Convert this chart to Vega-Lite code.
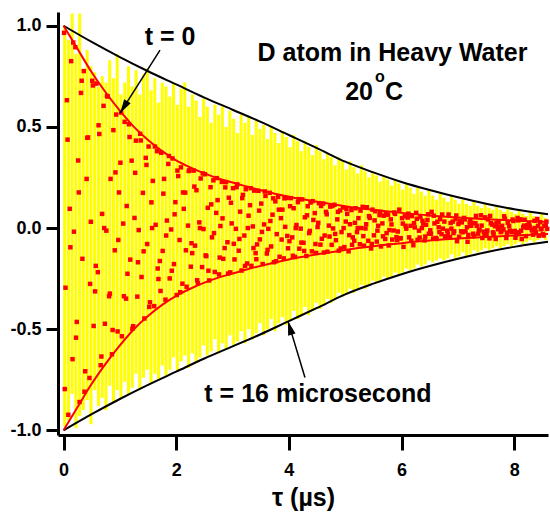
{
"$schema":"https://vega.github.io/schema/vega-lite/v6.json",
"width":490,"height":423,
"autosize":{"type":"none"},
"padding":{"left":58,"top":12,"right":2,"bottom":83},
"background":"white",
"config":{"view":{"stroke":null},"font":"Liberation Sans"},
"datasets":{
"bars":[
{"x":0.02,"lo":-0.98,"hi":1.0},{"x":0.087,"lo":-0.95,"hi":0.93},{"x":0.153,"lo":-0.82,"hi":1.06},{"x":0.22,"lo":-0.99,"hi":0.86},{"x":0.287,"lo":-0.93,"hi":1.06},{"x":0.353,"lo":-0.9,"hi":0.78},{"x":0.42,"lo":-0.85,"hi":0.88},{"x":0.487,"lo":-0.97,"hi":0.8},{"x":0.553,"lo":-0.8,"hi":0.77},{"x":0.62,"lo":-0.88,"hi":0.7},{"x":0.687,"lo":-0.84,"hi":0.75},{"x":0.753,"lo":-0.9,"hi":0.72},{"x":0.82,"lo":-0.78,"hi":0.83},{"x":0.887,"lo":-0.86,"hi":0.74},{"x":0.953,"lo":-0.8,"hi":0.86},{"x":1.02,"lo":-0.84,"hi":0.66},{"x":1.087,"lo":-0.76,"hi":0.72},{"x":1.153,"lo":-0.82,"hi":0.8},{"x":1.22,"lo":-0.79,"hi":0.7},{"x":1.287,"lo":-0.72,"hi":0.78},{"x":1.353,"lo":-0.8,"hi":0.66},{"x":1.42,"lo":-0.74,"hi":0.76},{"x":1.487,"lo":-0.7,"hi":0.79},{"x":1.553,"lo":-0.77,"hi":0.68},{"x":1.62,"lo":-0.72,"hi":0.74},{"x":1.687,"lo":-0.75,"hi":0.62},{"x":1.753,"lo":-0.68,"hi":0.72},{"x":1.82,"lo":-0.73,"hi":0.7},{"x":1.887,"lo":-0.7,"hi":0.65},{"x":1.953,"lo":-0.64,"hi":0.72},{"x":2.02,"lo":-0.71,"hi":0.61},{"x":2.087,"lo":-0.66,"hi":0.69},{"x":2.153,"lo":-0.63,"hi":0.72},{"x":2.22,"lo":-0.69,"hi":0.6},{"x":2.287,"lo":-0.62,"hi":0.66},{"x":2.353,"lo":-0.67,"hi":0.63},{"x":2.42,"lo":-0.64,"hi":0.55},{"x":2.487,"lo":-0.58,"hi":0.64},{"x":2.553,"lo":-0.63,"hi":0.6},{"x":2.62,"lo":-0.61,"hi":0.52},{"x":2.687,"lo":-0.55,"hi":0.61},{"x":2.753,"lo":-0.62,"hi":0.56},{"x":2.82,"lo":-0.57,"hi":0.6},{"x":2.887,"lo":-0.6,"hi":0.5},{"x":2.953,"lo":-0.53,"hi":0.58},{"x":3.02,"lo":-0.58,"hi":0.54},{"x":3.087,"lo":-0.56,"hi":0.47},{"x":3.153,"lo":-0.51,"hi":0.56},{"x":3.22,"lo":-0.57,"hi":0.52},{"x":3.287,"lo":-0.5,"hi":0.55},{"x":3.353,"lo":-0.55,"hi":0.46},{"x":3.42,"lo":-0.52,"hi":0.53},{"x":3.487,"lo":-0.47,"hi":0.49},{"x":3.553,"lo":-0.53,"hi":0.51},{"x":3.62,"lo":-0.5,"hi":0.44},{"x":3.687,"lo":-0.45,"hi":0.5},{"x":3.753,"lo":-0.51,"hi":0.47},{"x":3.82,"lo":-0.47,"hi":0.42},{"x":3.887,"lo":-0.44,"hi":0.48},{"x":3.953,"lo":-0.48,"hi":0.45},{"x":4.02,"lo":-0.46,"hi":0.4},{"x":4.087,"lo":-0.41,"hi":0.46},{"x":4.153,"lo":-0.45,"hi":0.43},{"x":4.22,"lo":-0.43,"hi":0.38},{"x":4.287,"lo":-0.39,"hi":0.43},{"x":4.353,"lo":-0.43,"hi":0.4},{"x":4.42,"lo":-0.41,"hi":0.36},{"x":4.487,"lo":-0.37,"hi":0.41},{"x":4.553,"lo":-0.4,"hi":0.38},{"x":4.62,"lo":-0.38,"hi":0.34},{"x":4.687,"lo":-0.35,"hi":0.37},{"x":4.753,"lo":-0.37,"hi":0.35},{"x":4.82,"lo":-0.35,"hi":0.31},{"x":4.887,"lo":-0.32,"hi":0.35},{"x":4.953,"lo":-0.34,"hi":0.33},{"x":5.02,"lo":-0.33,"hi":0.29},{"x":5.087,"lo":-0.3,"hi":0.33},{"x":5.153,"lo":-0.32,"hi":0.3},{"x":5.22,"lo":-0.3,"hi":0.27},{"x":5.287,"lo":-0.28,"hi":0.31},{"x":5.353,"lo":-0.3,"hi":0.28},{"x":5.42,"lo":-0.28,"hi":0.25},{"x":5.487,"lo":-0.26,"hi":0.28},{"x":5.553,"lo":-0.27,"hi":0.26},{"x":5.62,"lo":-0.26,"hi":0.23},{"x":5.687,"lo":-0.24,"hi":0.26},{"x":5.753,"lo":-0.25,"hi":0.24},{"x":5.82,"lo":-0.24,"hi":0.21},{"x":5.887,"lo":-0.22,"hi":0.24},{"x":5.953,"lo":-0.23,"hi":0.22},{"x":6.02,"lo":-0.22,"hi":0.19},{"x":6.087,"lo":-0.2,"hi":0.22},{"x":6.153,"lo":-0.21,"hi":0.2},{"x":6.22,"lo":-0.2,"hi":0.17},{"x":6.287,"lo":-0.18,"hi":0.2},{"x":6.353,"lo":-0.19,"hi":0.18},{"x":6.42,"lo":-0.18,"hi":0.16},{"x":6.487,"lo":-0.16,"hi":0.19},{"x":6.553,"lo":-0.17,"hi":0.16},{"x":6.62,"lo":-0.16,"hi":0.14},{"x":6.687,"lo":-0.15,"hi":0.17},{"x":6.753,"lo":-0.16,"hi":0.15},{"x":6.82,"lo":-0.15,"hi":0.13},{"x":6.887,"lo":-0.13,"hi":0.16},{"x":6.953,"lo":-0.15,"hi":0.14},{"x":7.02,"lo":-0.14,"hi":0.12},{"x":7.087,"lo":-0.12,"hi":0.14},{"x":7.153,"lo":-0.14,"hi":0.12},{"x":7.22,"lo":-0.13,"hi":0.11},{"x":7.287,"lo":-0.11,"hi":0.13},{"x":7.353,"lo":-0.12,"hi":0.11},{"x":7.42,"lo":-0.11,"hi":0.1},{"x":7.487,"lo":-0.1,"hi":0.12},{"x":7.553,"lo":-0.11,"hi":0.1},{"x":7.62,"lo":-0.1,"hi":0.09},{"x":7.687,"lo":-0.09,"hi":0.11},{"x":7.753,"lo":-0.1,"hi":0.09},{"x":7.82,"lo":-0.09,"hi":0.08},{"x":7.887,"lo":-0.08,"hi":0.1},{"x":7.953,"lo":-0.09,"hi":0.08},{"x":8.02,"lo":-0.08,"hi":0.07},{"x":8.087,"lo":-0.07,"hi":0.09},{"x":8.153,"lo":-0.08,"hi":0.07},{"x":8.22,"lo":-0.07,"hi":0.06},{"x":8.287,"lo":-0.06,"hi":0.08},{"x":8.353,"lo":-0.07,"hi":0.06},{"x":8.42,"lo":-0.06,"hi":0.05},{"x":8.487,"lo":-0.05,"hi":0.07},{"x":8.553,"lo":-0.06,"hi":0.05}
],
"black":[
{"x":0,"y":1.0,"s":"u"},{"x":0.5,"y":0.92,"s":"u"},{"x":1,"y":0.845,"s":"u"},{"x":1.5,"y":0.775,"s":"u"},{"x":2,"y":0.71,"s":"u"},{"x":2.5,"y":0.645,"s":"u"},{"x":3,"y":0.585,"s":"u"},{"x":3.5,"y":0.525,"s":"u"},{"x":4,"y":0.46,"s":"u"},{"x":4.5,"y":0.395,"s":"u"},{"x":5,"y":0.328,"s":"u"},{"x":5.5,"y":0.275,"s":"u"},{"x":6,"y":0.228,"s":"u"},{"x":6.5,"y":0.188,"s":"u"},{"x":7,"y":0.152,"s":"u"},{"x":7.5,"y":0.12,"s":"u"},{"x":8,"y":0.093,"s":"u"},{"x":8.6,"y":0.068,"s":"u"},
{"x":0,"y":-1.0,"s":"d"},{"x":0.5,"y":-0.92,"s":"d"},{"x":1,"y":-0.845,"s":"d"},{"x":1.5,"y":-0.775,"s":"d"},{"x":2,"y":-0.71,"s":"d"},{"x":2.5,"y":-0.645,"s":"d"},{"x":3,"y":-0.585,"s":"d"},{"x":3.5,"y":-0.525,"s":"d"},{"x":4,"y":-0.46,"s":"d"},{"x":4.5,"y":-0.395,"s":"d"},{"x":5,"y":-0.328,"s":"d"},{"x":5.5,"y":-0.275,"s":"d"},{"x":6,"y":-0.228,"s":"d"},{"x":6.5,"y":-0.188,"s":"d"},{"x":7,"y":-0.152,"s":"d"},{"x":7.5,"y":-0.12,"s":"d"},{"x":8,"y":-0.093,"s":"d"},{"x":8.6,"y":-0.068,"s":"d"}
],
"red":[
{"x":0,"y":1.0,"s":"u"},{"x":0.25,"y":0.885,"s":"u"},{"x":0.5,"y":0.77,"s":"u"},{"x":0.75,"y":0.67,"s":"u"},{"x":1,"y":0.58,"s":"u"},{"x":1.25,"y":0.5,"s":"u"},{"x":1.5,"y":0.435,"s":"u"},{"x":1.75,"y":0.38,"s":"u"},{"x":2,"y":0.335,"s":"u"},{"x":2.25,"y":0.3,"s":"u"},{"x":2.5,"y":0.27,"s":"u"},{"x":2.75,"y":0.245,"s":"u"},{"x":3,"y":0.225,"s":"u"},{"x":3.25,"y":0.205,"s":"u"},{"x":3.5,"y":0.187,"s":"u"},{"x":3.75,"y":0.17,"s":"u"},{"x":4,"y":0.155,"s":"u"},{"x":4.25,"y":0.142,"s":"u"},{"x":4.5,"y":0.13,"s":"u"},{"x":5,"y":0.108,"s":"u"},{"x":5.5,"y":0.09,"s":"u"},{"x":6,"y":0.075,"s":"u"},{"x":6.5,"y":0.062,"s":"u"},{"x":7,"y":0.052,"s":"u"},{"x":7.5,"y":0.044,"s":"u"},{"x":8,"y":0.037,"s":"u"},{"x":8.6,"y":0.03,"s":"u"},
{"x":0,"y":-1.0,"s":"d"},{"x":0.25,"y":-0.885,"s":"d"},{"x":0.5,"y":-0.77,"s":"d"},{"x":0.75,"y":-0.67,"s":"d"},{"x":1,"y":-0.58,"s":"d"},{"x":1.25,"y":-0.5,"s":"d"},{"x":1.5,"y":-0.435,"s":"d"},{"x":1.75,"y":-0.38,"s":"d"},{"x":2,"y":-0.335,"s":"d"},{"x":2.25,"y":-0.3,"s":"d"},{"x":2.5,"y":-0.27,"s":"d"},{"x":2.75,"y":-0.245,"s":"d"},{"x":3,"y":-0.225,"s":"d"},{"x":3.25,"y":-0.205,"s":"d"},{"x":3.5,"y":-0.187,"s":"d"},{"x":3.75,"y":-0.17,"s":"d"},{"x":4,"y":-0.155,"s":"d"},{"x":4.25,"y":-0.142,"s":"d"},{"x":4.5,"y":-0.13,"s":"d"},{"x":5,"y":-0.108,"s":"d"},{"x":5.5,"y":-0.09,"s":"d"},{"x":6,"y":-0.075,"s":"d"},{"x":6.5,"y":-0.062,"s":"d"},{"x":7,"y":-0.052,"s":"d"},{"x":7.5,"y":-0.044,"s":"d"},{"x":8,"y":-0.037,"s":"d"},{"x":8.6,"y":-0.03,"s":"d"}
],
"pts":[
{"x":0.01,"y":0.965},{"x":0.035,"y":-0.295},{"x":0.06,"y":0.632},{"x":0.085,"y":-0.923},{"x":0.11,"y":0.095},{"x":0.135,"y":0.825},{"x":0.16,"y":-0.648},{"x":0.185,"y":-0.018},{"x":0.21,"y":0.894},{"x":0.235,"y":-0.464},
{"x":0.26,"y":0.334},{"x":0.285,"y":-0.86},{"x":0.31,"y":0.668},{"x":0.335,"y":-0.152},{"x":0.36,"y":0.776},{"x":0.385,"y":-0.708},{"x":0.41,"y":0.243},{"x":0.435,"y":0.448},{"x":0.46,"y":-0.741},{"x":0.485,"y":0.031},
{"x":0.51,"y":0.728},{"x":0.535,"y":-0.484},{"x":0.56,"y":-0.313},{"x":0.585,"y":0.714},{"x":0.61,"y":-0.218},{"x":0.635,"y":0.465},{"x":0.66,"y":-0.678},{"x":0.685,"y":0.07},{"x":0.71,"y":0.604},{"x":0.735,"y":-0.473},
{"x":0.76,"y":-0.013},{"x":0.785,"y":0.65},{"x":0.81,"y":-0.337},{"x":0.835,"y":0.243},{"x":0.86,"y":-0.624},{"x":0.885,"y":0.484},{"x":0.91,"y":-0.11},{"x":0.935,"y":0.561},{"x":0.96,"y":-0.511},{"x":0.985,"y":0.176},
{"x":1.01,"y":0.323},{"x":1.035,"y":-0.535},{"x":1.06,"y":0.022},{"x":1.085,"y":0.525},{"x":1.11,"y":-0.349},{"x":1.135,"y":-0.226},{"x":1.16,"y":0.513},{"x":1.185,"y":-0.156},{"x":1.21,"y":0.333},{"x":1.235,"y":-0.485},
{"x":1.26,"y":0.05},{"x":1.285,"y":0.432},{"x":1.31,"y":-0.339},{"x":1.335,"y":-0.01},{"x":1.36,"y":0.466},{"x":1.385,"y":-0.242},{"x":1.41,"y":0.174},{"x":1.435,"y":-0.447},{"x":1.46,"y":0.347},{"x":1.485,"y":-0.079},
{"x":1.51,"y":0.403},{"x":1.535,"y":-0.367},{"x":1.56,"y":0.127},{"x":1.585,"y":0.233},{"x":1.61,"y":-0.386},{"x":1.635,"y":0.016},{"x":1.66,"y":0.38},{"x":1.685,"y":-0.252},{"x":1.71,"y":-0.163},{"x":1.735,"y":0.372},
{"x":1.76,"y":-0.113},{"x":1.785,"y":0.243},{"x":1.81,"y":-0.354},{"x":1.835,"y":0.037},{"x":1.86,"y":0.317},{"x":1.885,"y":-0.249},{"x":1.91,"y":-0.007},{"x":1.935,"y":0.344},{"x":1.96,"y":-0.178},{"x":1.985,"y":0.128},
{"x":2.01,"y":-0.331},{"x":2.035,"y":0.257},{"x":2.06,"y":-0.059},{"x":2.085,"y":0.3},{"x":2.11,"y":-0.275},{"x":2.135,"y":0.095},{"x":2.16,"y":0.175},{"x":2.185,"y":-0.29},{"x":2.21,"y":0.012},{"x":2.235,"y":0.287},
{"x":2.26,"y":-0.191},{"x":2.285,"y":-0.124},{"x":2.31,"y":0.284},{"x":2.335,"y":-0.087},{"x":2.36,"y":0.187},{"x":2.385,"y":-0.273},{"x":2.41,"y":0.028},{"x":2.435,"y":0.245},{"x":2.46,"y":-0.193},{"x":2.485,"y":-0.005},
{"x":2.51,"y":0.266},{"x":2.535,"y":-0.139},{"x":2.56,"y":0.1},{"x":2.585,"y":-0.259},{"x":2.61,"y":0.202},{"x":2.635,"y":-0.046},{"x":2.66,"y":0.236},{"x":2.685,"y":-0.217},{"x":2.71,"y":0.075},{"x":2.735,"y":0.138},
{"x":2.76,"y":-0.229},{"x":2.785,"y":0.01},{"x":2.81,"y":0.228},{"x":2.835,"y":-0.152},{"x":2.86,"y":-0.099},{"x":2.885,"y":0.227},{"x":2.91,"y":-0.07},{"x":2.935,"y":0.15},{"x":2.96,"y":-0.219},{"x":2.985,"y":0.023},
{"x":3.01,"y":0.197},{"x":3.035,"y":-0.155},{"x":3.06,"y":-0.004},{"x":3.085,"y":0.216},{"x":3.11,"y":-0.112},{"x":3.135,"y":0.081},{"x":3.16,"y":-0.21},{"x":3.185,"y":0.164},{"x":3.21,"y":-0.037},{"x":3.235,"y":0.192},
{"x":3.26,"y":-0.175},{"x":3.285,"y":0.061},{"x":3.31,"y":0.113},{"x":3.335,"y":-0.187},{"x":3.36,"y":0.008},{"x":3.385,"y":0.185},{"x":3.41,"y":-0.124},{"x":3.435,"y":-0.081},{"x":3.46,"y":0.184},{"x":3.485,"y":-0.056},
{"x":3.51,"y":0.121},{"x":3.535,"y":-0.178},{"x":3.56,"y":0.018},{"x":3.585,"y":0.159},{"x":3.61,"y":-0.126},{"x":3.635,"y":-0.004},{"x":3.66,"y":0.174},{"x":3.685,"y":-0.091},{"x":3.71,"y":0.066},{"x":3.735,"y":-0.169},
{"x":3.76,"y":0.132},{"x":3.785,"y":-0.03},{"x":3.81,"y":0.154},{"x":3.835,"y":-0.142},{"x":3.86,"y":0.049},{"x":3.885,"y":0.091},{"x":3.91,"y":-0.15},{"x":3.935,"y":0.006},{"x":3.96,"y":0.149},{"x":3.985,"y":-0.1},
{"x":4.01,"y":-0.065},{"x":4.035,"y":0.148},{"x":4.06,"y":-0.046},{"x":4.085,"y":0.098},{"x":4.11,"y":-0.143},{"x":4.135,"y":0.015},{"x":4.16,"y":0.128},{"x":4.185,"y":-0.102},{"x":4.21,"y":-0.003},{"x":4.235,"y":0.142},
{"x":4.26,"y":-0.073},{"x":4.285,"y":0.053},{"x":4.31,"y":-0.138},{"x":4.335,"y":0.108},{"x":4.36,"y":-0.025},{"x":4.385,"y":0.126},{"x":4.41,"y":-0.115},{"x":4.435,"y":0.04},{"x":4.46,"y":0.074},{"x":4.485,"y":-0.123},
{"x":4.51,"y":0.005},{"x":4.535,"y":0.123},{"x":4.56,"y":-0.082},{"x":4.585,"y":-0.053},{"x":4.61,"y":0.121},{"x":4.635,"y":-0.037},{"x":4.66,"y":0.08},{"x":4.685,"y":-0.117},{"x":4.71,"y":0.012},{"x":4.735,"y":0.106},
{"x":4.76,"y":-0.083},{"x":4.785,"y":-0.002},{"x":4.81,"y":0.115},{"x":4.835,"y":-0.06},{"x":4.86,"y":0.043},{"x":4.885,"y":-0.112},{"x":4.91,"y":0.087},{"x":4.935,"y":-0.02},{"x":4.96,"y":0.102},{"x":4.985,"y":-0.094},
{"x":5.01,"y":0.032},{"x":5.035,"y":0.07},{"x":5.06,"y":-0.115},{"x":5.085,"y":0.019},{"x":5.11,"y":0.089},{"x":5.135,"y":-0.046},{"x":5.16,"y":-0.063},{"x":5.185,"y":0.098},{"x":5.21,"y":-0.02},{"x":5.235,"y":0.049},
{"x":5.26,"y":-0.08},{"x":5.285,"y":0.0},{"x":5.31,"y":0.105},{"x":5.335,"y":-0.087},{"x":5.36,"y":-0.002},{"x":5.385,"y":0.103},{"x":5.41,"y":-0.063},{"x":5.435,"y":0.05},{"x":5.46,"y":-0.101},{"x":5.485,"y":0.091},
{"x":5.51,"y":-0.036},{"x":5.535,"y":0.083},{"x":5.56,"y":-0.067},{"x":5.585,"y":0.011},{"x":5.61,"y":0.064},{"x":5.635,"y":-0.091},{"x":5.66,"y":0.023},{"x":5.685,"y":0.061},{"x":5.71,"y":-0.054},{"x":5.735,"y":-0.025},
{"x":5.76,"y":0.066},{"x":5.785,"y":-0.01},{"x":5.81,"y":0.043},{"x":5.835,"y":-0.057},{"x":5.86,"y":-0.012},{"x":5.885,"y":0.07},{"x":5.91,"y":-0.045},{"x":5.935,"y":-0.017},{"x":5.96,"y":0.091},{"x":5.985,"y":-0.05},
{"x":6.01,"y":0.049},{"x":6.035,"y":-0.093},{"x":6.06,"y":0.058},{"x":6.085,"y":-0.003},{"x":6.11,"y":0.052},{"x":6.135,"y":-0.046},{"x":6.16,"y":0.011},{"x":6.185,"y":0.059},{"x":6.21,"y":-0.085},{"x":6.235,"y":0.003},
{"x":6.26,"y":0.075},{"x":6.285,"y":-0.058},{"x":6.31,"y":-0.013},{"x":6.335,"y":0.054},{"x":6.36,"y":0.0},{"x":6.385,"y":0.022},{"x":6.41,"y":-0.061},{"x":6.435,"y":0.016},{"x":6.46,"y":0.04},{"x":6.485,"y":-0.028},
{"x":6.51,"y":-0.011},{"x":6.535,"y":0.08},{"x":6.56,"y":-0.052},{"x":6.585,"y":0.023},{"x":6.61,"y":-0.049},{"x":6.635,"y":0.031},{"x":6.66,"y":0.004},{"x":6.685,"y":0.044},{"x":6.71,"y":-0.03},{"x":6.735,"y":-0.003},
{"x":6.76,"y":0.032},{"x":6.785,"y":-0.043},{"x":6.81,"y":-0.013},{"x":6.835,"y":0.067},{"x":6.86,"y":-0.045},{"x":6.885,"y":-0.003},{"x":6.91,"y":0.032},{"x":6.935,"y":-0.016},{"x":6.96,"y":0.044},{"x":6.985,"y":-0.065},
{"x":7.01,"y":0.02},{"x":7.035,"y":0.036},{"x":7.06,"y":-0.016},{"x":7.085,"y":-0.021},{"x":7.11,"y":0.05},{"x":7.135,"y":-0.016},{"x":7.16,"y":0.004},{"x":7.185,"y":-0.034},{"x":7.21,"y":0.027},{"x":7.235,"y":0.011},
{"x":7.26,"y":0.025},{"x":7.285,"y":-0.04},{"x":7.31,"y":0.024},{"x":7.335,"y":0.011},{"x":7.36,"y":-0.028},{"x":7.385,"y":-0.008},{"x":7.41,"y":0.063},{"x":7.435,"y":-0.049},{"x":7.46,"y":-0.018},{"x":7.485,"y":0.053},
{"x":7.51,"y":-0.028},{"x":7.535,"y":0.043},{"x":7.56,"y":-0.051},{"x":7.585,"y":0.024},{"x":7.61,"y":0.017},{"x":7.635,"y":-0.029},{"x":7.66,"y":0.009},{"x":7.685,"y":0.026},{"x":7.71,"y":-0.006},{"x":7.735,"y":0.005},
{"x":7.76,"y":-0.02},{"x":7.785,"y":0.011},{"x":7.81,"y":-0.007},{"x":7.835,"y":0.046},{"x":7.86,"y":-0.049},{"x":7.885,"y":0.026},{"x":7.91,"y":0.011},{"x":7.935,"y":-0.016},{"x":7.96,"y":-0.019},{"x":7.985,"y":0.035},
{"x":8.01,"y":-0.014},{"x":8.035,"y":-0.031},{"x":8.06,"y":0.05},{"x":8.085,"y":-0.021},{"x":8.11,"y":0.043},{"x":8.135,"y":-0.054},{"x":8.16,"y":0.004},{"x":8.185,"y":0.041},{"x":8.21,"y":-0.04},{"x":8.235,"y":0.014},
{"x":8.26,"y":0.024},{"x":8.285,"y":0.002},{"x":8.31,"y":-0.007},{"x":8.335,"y":-0.033},{"x":8.36,"y":0.036},{"x":8.385,"y":-0.021},{"x":8.41,"y":0.045},{"x":8.435,"y":-0.038},{"x":8.46,"y":0.029},{"x":8.485,"y":-0.003},
{"x":8.51,"y":-0.029},{"x":8.535,"y":0.011},{"x":8.56,"y":0.014},{"x":8.585,"y":-0.004},
{"x":0.022,"y":-0.796},{"x":0.072,"y":0.437},{"x":0.122,"y":-0.095},{"x":0.172,"y":0.917},{"x":0.222,"y":-0.542},{"x":0.272,"y":0.176},{"x":0.322,"y":0.728},{"x":0.372,"y":-0.809},{"x":0.422,"y":0.446},{"x":0.472,"y":-0.276},
{"x":0.522,"y":0.705},{"x":0.572,"y":-0.187},{"x":0.622,"y":0.508},{"x":0.672,"y":-0.635},{"x":0.722,"y":0.0},{"x":0.772,"y":0.653},{"x":0.822,"y":-0.324},{"x":0.872,"y":-0.504},{"x":0.922,"y":0.275},{"x":0.972,"y":-0.059},
{"x":1.022,"y":0.571},{"x":1.072,"y":-0.337},{"x":1.122,"y":0.109},{"x":1.172,"y":0.45},{"x":1.222,"y":-0.498},{"x":1.272,"y":0.273},{"x":1.322,"y":-0.169},{"x":1.372,"y":0.433},{"x":1.422,"y":-0.115},{"x":1.472,"y":0.312},
{"x":1.522,"y":-0.39},{"x":1.572,"y":0.0},{"x":1.622,"y":0.403},{"x":1.672,"y":-0.2},{"x":1.722,"y":-0.311},{"x":1.772,"y":0.17},{"x":1.822,"y":-0.037},{"x":1.872,"y":0.356},{"x":1.922,"y":-0.211},{"x":1.972,"y":0.068},
{"x":2.022,"y":0.284},{"x":2.072,"y":-0.317},{"x":2.122,"y":0.176},{"x":2.172,"y":-0.11},{"x":2.222,"y":0.282},{"x":2.272,"y":-0.075},{"x":2.322,"y":0.205},{"x":2.372,"y":-0.258},{"x":2.422,"y":0.0},{"x":2.472,"y":0.27},
{"x":2.522,"y":-0.135},{"x":2.572,"y":-0.211},{"x":2.622,"y":0.117},{"x":2.672,"y":-0.025},{"x":2.722,"y":0.247},{"x":2.772,"y":-0.146},{"x":2.822,"y":0.048},{"x":2.872,"y":0.201},{"x":2.922,"y":-0.225},{"x":2.972,"y":0.125},
{"x":3.022,"y":-0.078},{"x":3.072,"y":0.202},{"x":3.122,"y":-0.054},{"x":3.172,"y":0.148},{"x":3.222,"y":-0.187},{"x":3.272,"y":0.0},{"x":3.322,"y":0.197},{"x":3.372,"y":-0.099},{"x":3.422,"y":-0.154},{"x":3.472,"y":0.086},
{"x":3.522,"y":-0.019},{"x":3.572,"y":0.181},{"x":3.622,"y":-0.108},{"x":3.672,"y":0.035},{"x":3.722,"y":0.147},{"x":3.772,"y":-0.164},{"x":3.822,"y":0.091},{"x":3.872,"y":-0.057},{"x":3.922,"y":0.147},{"x":3.972,"y":-0.039},
{"x":4.022,"y":0.108},{"x":4.072,"y":-0.137},{"x":4.122,"y":0.0},{"x":4.172,"y":0.143},{"x":4.222,"y":-0.072},{"x":4.272,"y":-0.113},{"x":4.322,"y":0.063},{"x":4.372,"y":-0.014},{"x":4.422,"y":0.133},{"x":4.472,"y":-0.079},
{"x":4.522,"y":0.026},{"x":4.572,"y":0.109},{"x":4.622,"y":-0.121},{"x":4.672,"y":0.068},{"x":4.722,"y":-0.042},{"x":4.772,"y":0.109},{"x":4.822,"y":-0.029},{"x":4.872,"y":0.08},{"x":4.922,"y":-0.101},{"x":4.972,"y":0.0},
{"x":5.022,"y":0.094},{"x":5.072,"y":-0.035},{"x":5.122,"y":-0.083},{"x":5.172,"y":0.026},{"x":5.222,"y":0.0},{"x":5.272,"y":0.086},{"x":5.322,"y":-0.04},{"x":5.372,"y":0.019},{"x":5.422,"y":0.059},{"x":5.472,"y":-0.079},
{"x":5.522,"y":0.038},{"x":5.572,"y":-0.013},{"x":5.622,"y":0.08},{"x":5.672,"y":-0.041},{"x":5.722,"y":0.069},{"x":5.772,"y":-0.086},{"x":5.822,"y":0.018},{"x":5.872,"y":0.077},{"x":5.922,"y":-0.059},{"x":5.972,"y":-0.051},
{"x":6.022,"y":0.022},{"x":6.072,"y":0.011},{"x":6.122,"y":0.071},{"x":6.172,"y":-0.063},{"x":6.222,"y":0.024},{"x":6.272,"y":0.046},{"x":6.322,"y":-0.047},{"x":6.372,"y":0.036},{"x":6.422,"y":-0.042},{"x":6.472,"y":0.068},
{"x":6.522,"y":-0.028},{"x":6.572,"y":0.061},{"x":6.622,"y":-0.054},{"x":6.672,"y":-0.02},{"x":6.722,"y":0.067},{"x":6.772,"y":-0.041},{"x":6.822,"y":-0.027},{"x":6.872,"y":0.025},{"x":6.922,"y":-0.025},{"x":6.972,"y":0.062},
{"x":7.022,"y":-0.043},{"x":7.072,"y":0.028},{"x":7.122,"y":0.043},{"x":7.172,"y":-0.068},{"x":7.222,"y":0.036},{"x":7.272,"y":-0.028},{"x":7.322,"y":0.06},{"x":7.372,"y":-0.012},{"x":7.422,"y":0.012},{"x":7.472,"y":-0.03},
{"x":7.522,"y":-0.012},{"x":7.572,"y":0.06},{"x":7.622,"y":-0.021},{"x":7.672,"y":-0.054},{"x":7.722,"y":0.028},{"x":7.772,"y":-0.016},{"x":7.822,"y":0.058},{"x":7.872,"y":-0.023},{"x":7.922,"y":-0.012},{"x":7.972,"y":0.042},
{"x":8.022,"y":-0.048},{"x":8.072,"y":0.038},{"x":8.122,"y":-0.013},{"x":8.172,"y":0.012},{"x":8.222,"y":0.001},{"x":8.272,"y":0.012},{"x":8.322,"y":-0.012},{"x":8.372,"y":0.0},{"x":8.422,"y":0.011},{"x":8.472,"y":-0.006},
{"x":8.522,"y":-0.037},{"x":8.572,"y":0.032}
],
"arrows":[
{"name":"a1","x0":1.713,"y0":0.88,"x1":1.003,"y1":0.568},
{"name":"a2","x0":4.286,"y0":-0.739,"x1":3.984,"y1":-0.46}
]
},
"layer":[
{"data":{"name":"bars"},
 "mark":{"type":"rule","color":"#FFFF00","strokeWidth":3},
 "encoding":{
  "x":{"field":"x","type":"quantitative","scale":{"domain":[-0.098,8.6],"nice":false,"zero":false},
   "axis":{"values":[0,2,4,6,8],"format":"d","title":"τ (µs)","grid":false,"domainColor":"black","domainWidth":3,"tickColor":"black","tickWidth":3,"tickSize":15,"labelFont":"Liberation Sans","labelFontSize":18,"labelFontWeight":"bold","labelColor":"black","labelPadding":11,"labelFlush":false,"labelOverlap":false,"titleFont":"Liberation Sans","titleFontSize":25,"titleFontWeight":"bold","titleColor":"black","titlePadding":6}},
  "y":{"field":"lo","type":"quantitative","scale":{"domain":[-1.023,1.068],"nice":false,"zero":false},
   "axis":{"values":[-1,-0.5,0,0.5,1],"format":".1f","labelExpr":"replace(datum.label,'−','-')","title":null,"grid":false,"domainColor":"black","domainWidth":3,"tickColor":"black","tickWidth":3,"tickSize":12,"labelFont":"Liberation Sans","labelFontSize":18,"labelFontWeight":"bold","labelColor":"black","labelPadding":5,"labelFlush":false,"labelOverlap":false}},
  "y2":{"field":"hi"}}},
{"data":{"name":"black"},
 "mark":{"type":"line","color":"black","strokeWidth":2,"interpolate":"monotone"},
 "encoding":{"x":{"field":"x","type":"quantitative"},"y":{"field":"y","type":"quantitative"},"detail":{"field":"s"}}},
{"data":{"name":"pts"},
 "mark":{"type":"square","color":"#FF0000","size":20,"opacity":1},
 "encoding":{"x":{"field":"x","type":"quantitative"},"y":{"field":"y","type":"quantitative"}}},
{"data":{"name":"red"},
 "mark":{"type":"line","color":"#FF0000","strokeWidth":2,"interpolate":"monotone"},
 "encoding":{"x":{"field":"x","type":"quantitative"},"y":{"field":"y","type":"quantitative"},"detail":{"field":"s"}}},
{"data":{"name":"arrows"},
 "mark":{"type":"rule","color":"black","strokeWidth":1.5},
 "encoding":{"x":{"field":"x0","type":"quantitative"},"y":{"field":"y0","type":"quantitative"},"x2":{"field":"x1"},"y2":{"field":"y1"}}},
{"data":{"name":"arrows"},
 "transform":[{"filter":"datum.name=='a1'"}],
 "mark":{"type":"point","shape":"M0,0L0.55,2L-0.55,2Z","filled":true,"color":"black","opacity":1,"size":196,"angle":212},
 "encoding":{"x":{"field":"x1","type":"quantitative"},"y":{"field":"y1","type":"quantitative"}}},
{"data":{"name":"arrows"},
 "transform":[{"filter":"datum.name=='a2'"}],
 "mark":{"type":"point","shape":"M0,0L0.55,2L-0.55,2Z","filled":true,"color":"black","opacity":1,"size":196,"angle":344},
 "encoding":{"x":{"field":"x1","type":"quantitative"},"y":{"field":"y1","type":"quantitative"}}},
{"data":{"values":[{"t":"t = 0","x":1.89,"y":0.905},{"t":"D atom in Heavy Water","x":5.839,"y":0.825},{"t":"t = 16 microsecond","x":4.516,"y":-0.858}]},
 "mark":{"type":"text","font":"Liberation Sans","fontWeight":"bold","fontSize":25,"color":"black","align":"center","baseline":"alphabetic"},
 "encoding":{"x":{"field":"x","type":"quantitative"},"y":{"field":"y","type":"quantitative"},"text":{"field":"t"}}},
{"data":{"values":[{"t":"20","x":5.493,"y":0.634}]},
 "mark":{"type":"text","font":"Liberation Sans","fontWeight":"bold","fontSize":25,"color":"black","align":"right","baseline":"alphabetic"},
 "encoding":{"x":{"field":"x","type":"quantitative"},"y":{"field":"y","type":"quantitative"},"text":{"field":"t"}}},
{"data":{"values":[{"t":"C","x":5.705,"y":0.634}]},
 "mark":{"type":"text","font":"Liberation Sans","fontWeight":"bold","fontSize":25,"color":"black","align":"left","baseline":"alphabetic"},
 "encoding":{"x":{"field":"x","type":"quantitative"},"y":{"field":"y","type":"quantitative"},"text":{"field":"t"}}},
{"data":{"values":[{"t":"o","x":5.527,"y":0.721}]},
 "mark":{"type":"text","font":"Liberation Sans","fontWeight":"bold","fontSize":16,"color":"black","align":"left","baseline":"alphabetic"},
 "encoding":{"x":{"field":"x","type":"quantitative"},"y":{"field":"y","type":"quantitative"},"text":{"field":"t"}}}
]
}
